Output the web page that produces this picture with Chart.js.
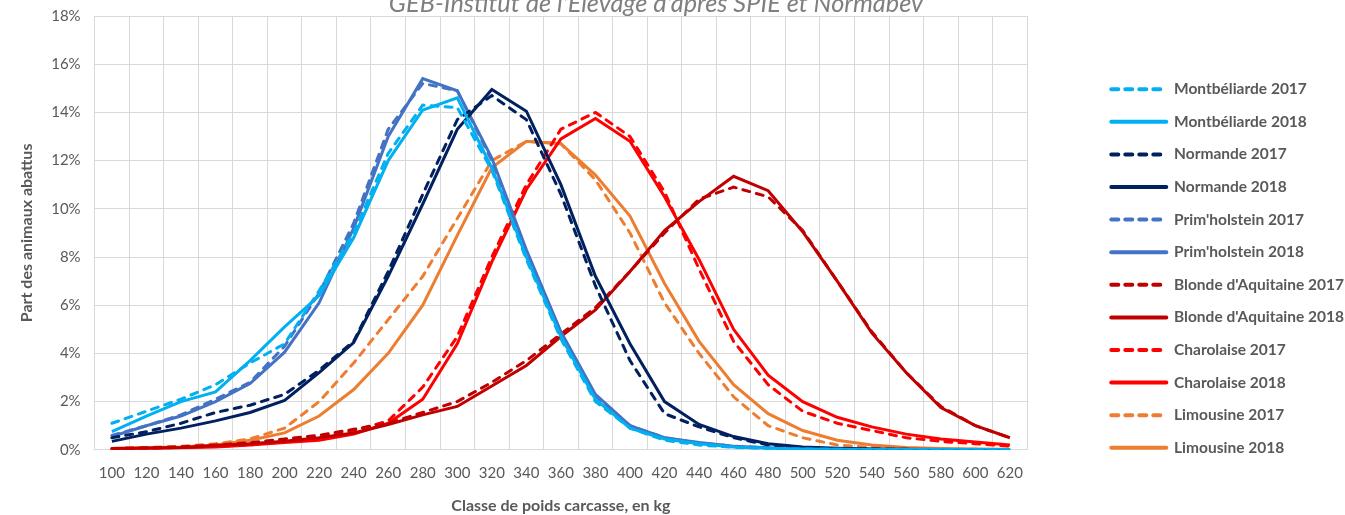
<!DOCTYPE html>
<html>
<head>
<meta charset="utf-8">
<script src="https://cdn.jsdelivr.net/npm/chart.js@4.4.1/dist/chart.umd.min.js"></script>
<style>
  html, body { margin: 0; padding: 0; background: #fff; }
  #wrap { width: 1345px; height: 515px; position: relative; }
</style>
</head>
<body>
<div id="wrap"><canvas id="myChart"></canvas></div>
<script>
'use strict';

// classes de poids carcasse (kg)
const weights = [100, 120, 140, 160, 180, 200, 220, 240, 260, 280, 300, 320, 340, 360, 380, 400, 420, 440, 460, 480, 500, 520, 540, 560, 580, 600, 620];
const yTicks = [0, 2, 4, 6, 8, 10, 12, 14, 16, 18];

// part des animaux abattus, en %
const montbeliarde2017 = [1.1, 1.6, 2.1, 2.7, 3.6, 4.4, 6.6, 9.0, 12.3, 14.3, 14.2, 11.6, 7.9, 4.6, 2.0, 0.9, 0.4, 0.2, 0.1, 0.05, 0.03, 0.02, 0.01, 0.01, 0.01, 0.01, 0.01];
const montbeliarde2018 = [0.75, 1.4, 2.0, 2.4, 3.7, 5.1, 6.4, 8.8, 12.0, 14.1, 14.6, 11.7, 8.0, 4.7, 2.1, 0.9, 0.45, 0.25, 0.12, 0.06, 0.03, 0.02, 0.01, 0.01, 0.01, 0.01, 0.01];
const normande2017 = [0.5, 0.75, 1.1, 1.55, 1.85, 2.3, 3.3, 4.5, 7.4, 10.6, 13.7, 14.7, 13.7, 10.6, 6.8, 3.7, 1.5, 0.95, 0.5, 0.2, 0.1, 0.05, 0.03, 0.02, 0.01, 0.01, 0.01];
const normande2018 = [0.35, 0.65, 0.9, 1.2, 1.55, 2.05, 3.2, 4.45, 7.2, 10.2, 13.3, 14.95, 14.05, 11.0, 7.2, 4.4, 2.0, 1.05, 0.55, 0.25, 0.12, 0.06, 0.03, 0.02, 0.01, 0.01, 0.01];
const primholstein2017 = [0.6, 1.0, 1.45, 2.1, 2.8, 4.3, 6.5, 9.4, 13.3, 15.2, 14.9, 12.0, 8.2, 4.8, 2.2, 1.0, 0.5, 0.28, 0.15, 0.08, 0.05, 0.03, 0.02, 0.01, 0.01, 0.01, 0.01];
const primholstein2018 = [0.55, 1.0, 1.4, 2.0, 2.75, 4.05, 6.1, 9.2, 13.0, 15.4, 14.9, 12.1, 8.3, 4.9, 2.3, 1.0, 0.5, 0.3, 0.15, 0.08, 0.05, 0.03, 0.02, 0.01, 0.01, 0.01, 0.01];
const blonde2017 = [0.05, 0.08, 0.12, 0.2, 0.3, 0.45, 0.6, 0.85, 1.1, 1.55, 2.0, 2.8, 3.7, 4.8, 5.9, 7.4, 9.0, 10.4, 10.9, 10.5, 9.1, 7.0, 4.9, 3.2, 1.8, 1.0, 0.5];
const blonde2018 = [0.05, 0.07, 0.1, 0.18, 0.25, 0.35, 0.5, 0.7, 1.05, 1.45, 1.8, 2.65, 3.5, 4.7, 5.8, 7.4, 9.1, 10.3, 11.35, 10.75, 9.05, 7.0, 4.85, 3.2, 1.75, 1.0, 0.5];
const charolaise2017 = [0.03, 0.05, 0.1, 0.15, 0.2, 0.35, 0.5, 0.8, 1.2, 2.6, 4.7, 8.0, 11.0, 13.3, 14.0, 13.0, 10.7, 7.5, 4.5, 2.7, 1.6, 1.1, 0.8, 0.5, 0.35, 0.25, 0.15];
const charolaise2018 = [0.02, 0.05, 0.08, 0.12, 0.2, 0.3, 0.4, 0.65, 1.1, 2.1, 4.4, 7.8, 10.8, 12.9, 13.75, 12.8, 10.5, 7.9, 5.0, 3.1, 2.0, 1.35, 0.95, 0.65, 0.45, 0.32, 0.2];
const limousine2017 = [0.05, 0.1, 0.15, 0.25, 0.45, 0.9, 2.0, 3.6, 5.4, 7.2, 9.6, 12.0, 12.8, 12.7, 11.2, 9.0, 6.1, 4.0, 2.2, 1.0, 0.5, 0.2, 0.1, 0.05, 0.03, 0.02, 0.01];
const limousine2018 = [0.05, 0.08, 0.12, 0.2, 0.4, 0.7, 1.4, 2.5, 4.0, 6.0, 8.9, 11.7, 12.8, 12.7, 11.4, 9.7, 6.9, 4.5, 2.7, 1.5, 0.8, 0.4, 0.2, 0.1, 0.05, 0.03, 0.02];

const grey = '#595959';
const gridGrey = '#d9d9d9';
const dash = [7, 7];

Chart.defaults.font.family = 'Lato';

const line = (label, data, color, dashed) => ({
	label: label,
	data: data,
	borderColor: color,
	backgroundColor: color,
	borderWidth: 3,
	borderDash: dashed ? dash : [],
	borderCapStyle: dashed ? 'round' : 'butt',
	pointRadius: 0,
	tension: 0,
	fill: false,
});

// titre (source) coupé en haut de l'image
const sourceTitle = {
	id: 'sourceTitle',
	afterDraw(chart) {
		const ctx = chart.ctx;
		ctx.save();
		ctx.font = 'italic 25.3px Lato';
		ctx.fillStyle = '#7f7f7f';
		ctx.textAlign = 'center';
		ctx.fillText("GEB-Institut de l'Elevage d'après SPIE et Normabev", 656, 12);
		ctx.restore();
	},
};

const ctx = document.getElementById('myChart').getContext('2d');

const myChart = new Chart(ctx, {
	type: 'line',
	data: {
		labels: weights,
		datasets: [
			line('Montbéliarde 2017', montbeliarde2017, '#00b0f0', true),
			line('Montbéliarde 2018', montbeliarde2018, '#00b0f0', false),
			line('Normande 2017', normande2017, '#002060', true),
			line('Normande 2018', normande2018, '#002060', false),
			line("Prim'holstein 2017", primholstein2017, '#4472c4', true),
			line("Prim'holstein 2018", primholstein2018, '#4472c4', false),
			line("Blonde d'Aquitaine 2017", blonde2017, '#c00000', true),
			line("Blonde d'Aquitaine 2018", blonde2018, '#c00000', false),
			line('Charolaise 2017', charolaise2017, '#ff0000', true),
			line('Charolaise 2018', charolaise2018, '#ff0000', false),
			line('Limousine 2017', limousine2017, '#ed7d31', true),
			line('Limousine 2018', limousine2018, '#ed7d31', false),
		],
	},
	options: {
		responsive: true,
		maintainAspectRatio: false,
		animation: false,
		layout: {
			padding: { top: 5, left: 17, bottom: 0, right: -9 },
		},
		plugins: {
			legend: {
				position: 'right',
				align: 'center',
				maxWidth: 320,
				title: { display: true, text: '', font: { size: 1 }, padding: { top: 7.9, bottom: 7.9 } },
				labels: {
					usePointStyle: true,
					pointStyle: 'line',
					pointStyleWidth: 55,
					boxHeight: 15.5,
					padding: 17.1,
					color: grey,
					font: { size: 15.5, weight: 'bold' },
					generateLabels: (chart) => chart.data.datasets.map((ds, i) => ({
						text: ds.label,
						fillStyle: ds.borderColor,
						strokeStyle: ds.borderColor,
						lineWidth: 4,
						lineDash: ds.borderDash,
						lineCap: 'round',
						pointStyle: 'line',
						fontColor: grey,
						hidden: false,
						datasetIndex: i,
					})),
				},
			},
			tooltip: { enabled: false },
		},
		scales: {
			x: {
				offset: true,
				grid: { offset: true, color: gridGrey, drawTicks: false },
				border: { color: gridGrey },
				ticks: {
					color: grey,
					font: { size: 15 },
					padding: 14,
					maxRotation: 0,
					autoSkip: false,
				},
				title: {
					display: true,
					text: 'Classe de poids carcasse, en kg',
					color: grey,
					font: { size: 16, weight: 'bold' },
					padding: { top: 0, bottom: 0 },
				},
			},
			y: {
				min: 0,
				max: 18,
				afterBuildTicks: (scale) => { scale.ticks = yTicks.map(v => ({ value: v })); },
				grid: { color: gridGrey, drawTicks: true, tickLength: 7, tickColor: 'rgba(0,0,0,0)' },
				border: { display: false },
				ticks: {
					color: grey,
					font: { size: 15 },
					padding: 7,
					callback: (v) => v + '%',
				},
				title: {
					display: true,
					text: 'Part des animaux abattus',
					color: grey,
					font: { size: 16, weight: 'bold' },
					padding: { top: 0, bottom: 8 },
				},
			},
			y2: {
				position: 'right',
				grid: { display: false },
				border: { display: false },
				ticks: { display: false },
				afterFit: (scale) => { scale.width = 67; },
			},
		},
	},
	plugins: [sourceTitle],
});
</script>
</body>
</html>
